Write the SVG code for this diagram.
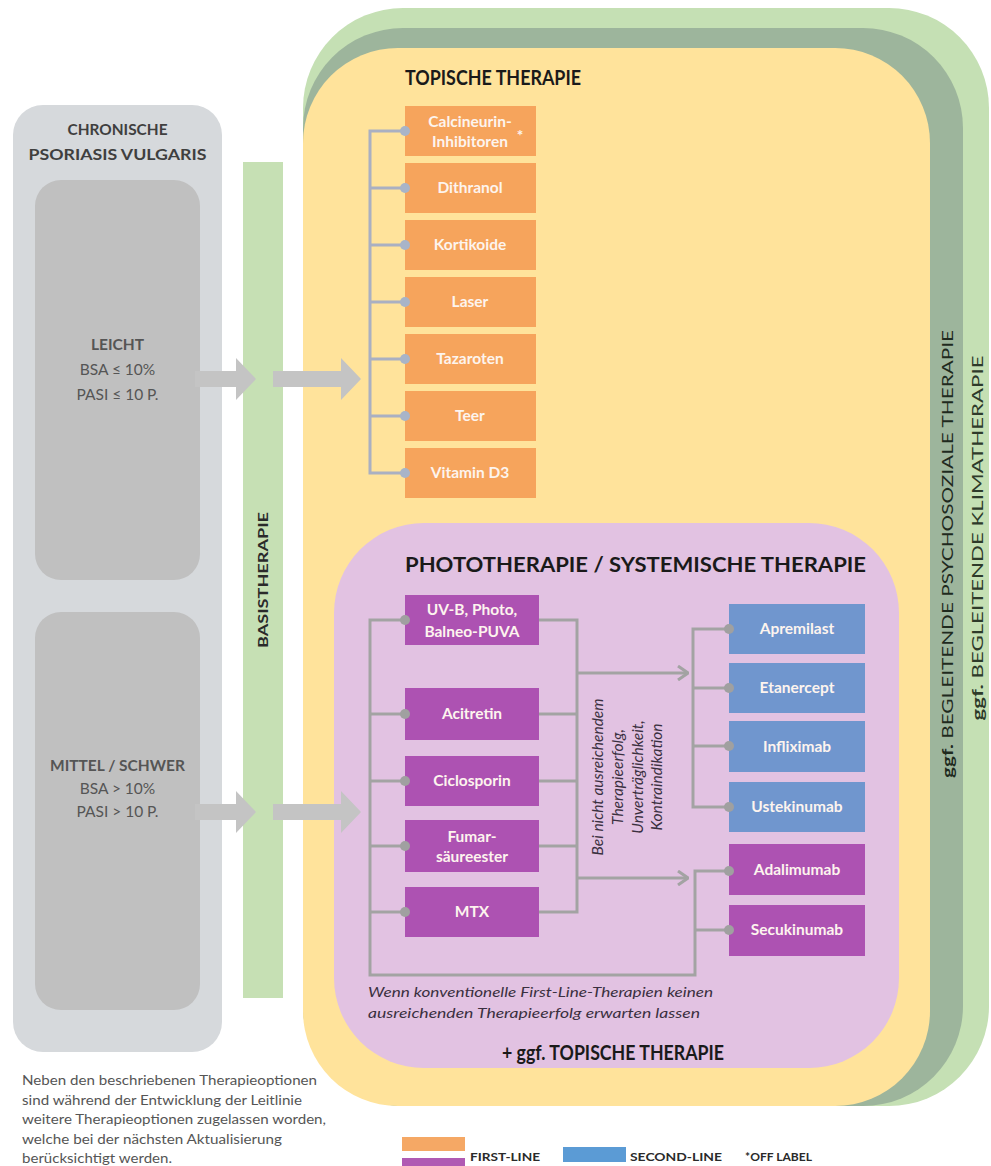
<svg xmlns="http://www.w3.org/2000/svg" width="991" height="1166" viewBox="0 0 991 1166">
<defs>
<style>
.f{font-family:Lato,"Liberation Sans",sans-serif}
.bd{font-weight:700}
.bo{fill:#f6a45c}
.bp{fill:#ad52b2}
.bb{fill:#7096ce}
.lbl{font-family:Lato,"Liberation Sans",sans-serif;font-weight:700;font-size:15.5px;fill:#fdf4ee;text-anchor:middle}
.ct{fill:none;stroke:#aab0c2;stroke-width:3}
.cn{fill:none;stroke:#a3a3a3;stroke-width:3}
.dt{fill:#a8b4c8}
.dn{fill:#a0a0a0}
.ga{fill:#c4c4c4}
.it{font-family:Lato,"Liberation Sans",sans-serif;font-style:italic;font-size:15.5px;fill:#3a3040}
.it2{font-family:Lato,"Liberation Sans",sans-serif;font-style:italic;font-size:14px;fill:#3a3040}
.ttl{font-family:Lato,"Liberation Sans",sans-serif;font-weight:700;font-size:20px;fill:#1a1a1a}
.gt{font-family:Lato,"Liberation Sans",sans-serif;font-size:15.5px;fill:#555555;text-anchor:middle}
</style>
<marker id="chev" viewBox="0 0 12 16" refX="11" refY="8" markerWidth="12" markerHeight="16" markerUnits="userSpaceOnUse" orient="auto"><path d="M1,1 L11,8 L1,15" fill="none" stroke="#a3a3a3" stroke-width="3"/></marker>
</defs>
<rect width="991" height="1166" fill="#ffffff"/>

<g id="klimatherapie">
<rect x="303" y="8" width="686" height="1098" rx="100" fill="#c5e0b4"/>
<text class="f" font-size="16" fill="#2e3a2a" transform="translate(983,538) rotate(-90)" text-anchor="middle" textLength="365" lengthAdjust="spacingAndGlyphs"><tspan font-weight="700">ggf.</tspan> BEGLEITENDE KLIMATHERAPIE</text>
</g>
<g id="psychosoziale">
<rect x="303" y="28" width="660" height="1078" rx="100" fill="#9db59c"/>
<text class="f" font-size="16" fill="#1f2a1e" transform="translate(953,554) rotate(-90)" text-anchor="middle" textLength="448" lengthAdjust="spacingAndGlyphs"><tspan font-weight="700">ggf.</tspan> BEGLEITENDE PSYCHOSOZIALE THERAPIE</text>
</g>
<g id="topische">
<rect x="303" y="48" width="627" height="1058" rx="95" fill="#ffe39b"/>
<text class="ttl" x="405" y="85" textLength="176" lengthAdjust="spacingAndGlyphs">TOPISCHE THERAPIE</text>
</g>
<g id="systemische">
<rect x="334" y="523" width="565" height="545" rx="90" fill="#e2c2e2"/>
<text class="ttl" x="405" y="572" textLength="461" lengthAdjust="spacingAndGlyphs">PHOTOTHERAPIE / SYSTEMISCHE THERAPIE</text>
<text class="ttl" x="502" y="1060" textLength="222" lengthAdjust="spacingAndGlyphs">+ ggf. TOPISCHE THERAPIE</text>
</g>

<g id="psoriasis">
<rect x="13" y="105" width="209" height="947" rx="30" fill="#d6d9dc"/>
<text class="f bd" font-size="15" fill="#3f3f3f" x="117.5" y="135" text-anchor="middle" textLength="100" lengthAdjust="spacingAndGlyphs">CHRONISCHE</text>
<text class="f bd" font-size="15" fill="#3f3f3f" x="117.5" y="160" text-anchor="middle" textLength="178" lengthAdjust="spacingAndGlyphs">PSORIASIS VULGARIS</text>
</g>
<g id="leicht">
<rect x="35" y="180" width="165" height="400" rx="26" fill="#c0c0c0"/>
<text class="gt" font-weight="700" fill="#404040" x="117.5" y="350">LEICHT</text>
<text class="gt" x="117.5" y="375">BSA ≤ 10%</text>
<text class="gt" x="117.5" y="400">PASI ≤ 10 P.</text>
</g>
<g id="mittel">
<rect x="35" y="612" width="165" height="398" rx="26" fill="#c0c0c0"/>
<text class="gt" font-weight="700" fill="#404040" x="117.5" y="771">MITTEL / SCHWER</text>
<text class="gt" x="117.5" y="794">BSA &gt; 10%</text>
<text class="gt" x="117.5" y="817">PASI &gt; 10 P.</text>
</g>
<g id="basistherapie">
<rect x="243" y="162" width="40" height="836" fill="#c6e0b4"/>
<text class="f bd" font-size="14" fill="#2a2a2a" transform="translate(268,580) rotate(-90)" text-anchor="middle" textLength="136" lengthAdjust="spacingAndGlyphs">BASISTHERAPIE</text>
</g>

<g id="topical-boxes">
<g id="calcineurin"><rect class="bo" x="405" y="106" width="131" height="50"/><text class="lbl" x="470" y="127">Calcineurin-</text><text class="lbl" x="470" y="147">Inhibitoren</text><text class="lbl" x="520" y="141">*</text></g>
<g id="dithranol"><rect class="bo" x="405" y="163" width="131" height="50"/><text class="lbl" x="470" y="193">Dithranol</text></g>
<g id="kortikoide"><rect class="bo" x="405" y="220" width="131" height="50"/><text class="lbl" x="470" y="250">Kortikoide</text></g>
<g id="laser"><rect class="bo" x="405" y="277" width="131" height="50"/><text class="lbl" x="470" y="307">Laser</text></g>
<g id="tazaroten"><rect class="bo" x="405" y="334" width="131" height="50"/><text class="lbl" x="470" y="364">Tazaroten</text></g>
<g id="teer"><rect class="bo" x="405" y="391" width="131" height="50"/><text class="lbl" x="470" y="421">Teer</text></g>
<g id="vitamind3"><rect class="bo" x="405" y="448" width="131" height="50"/><text class="lbl" x="470" y="478">Vitamin D3</text></g>
</g>

<g id="systemic-boxes">
<g id="uvb"><rect class="bp" x="405" y="595" width="134" height="50"/><text class="lbl" x="472" y="615">UV-B, Photo,</text><text class="lbl" x="472" y="637">Balneo-PUVA</text></g>
<g id="acitretin"><rect class="bp" x="405" y="688" width="134" height="52"/><text class="lbl" x="472" y="719">Acitretin</text></g>
<g id="ciclosporin"><rect class="bp" x="405" y="756" width="134" height="50"/><text class="lbl" x="472" y="786">Ciclosporin</text></g>
<g id="fumar"><rect class="bp" x="405" y="820" width="134" height="52"/><text class="lbl" x="472" y="842">Fumar-</text><text class="lbl" x="472" y="862">säureester</text></g>
<g id="mtx"><rect class="bp" x="405" y="887" width="134" height="50"/><text class="lbl" x="472" y="917">MTX</text></g>
<g id="apremilast"><rect class="bb" x="729" y="604" width="136" height="50"/><text class="lbl" x="797" y="634">Apremilast</text></g>
<g id="etanercept"><rect class="bb" x="729" y="663" width="136" height="50"/><text class="lbl" x="797" y="693">Etanercept</text></g>
<g id="infliximab"><rect class="bb" x="729" y="721" width="136" height="51"/><text class="lbl" x="797" y="752">Infliximab</text></g>
<g id="ustekinumab"><rect class="bb" x="729" y="782" width="136" height="50"/><text class="lbl" x="797" y="812">Ustekinumab</text></g>
<g id="adalimumab"><rect class="bp" x="729" y="844" width="136" height="51"/><text class="lbl" x="797" y="875">Adalimumab</text></g>
<g id="secukinumab"><rect class="bp" x="729" y="905" width="136" height="51"/><text class="lbl" x="797" y="935">Secukinumab</text></g>
</g>

<g id="connectors">
<polygon class="ga" points="195,371 236,371 236,358 256,379 236,400 236,387 195,387"/>
<polygon class="ga" points="273,371 341,371 341,358 361,379 341,400 341,387 273,387"/>
<polygon class="ga" points="195,804 236,804 236,791 256,812 236,833 236,820 195,820"/>
<polygon class="ga" points="273,804 341,804 341,791 361,812 341,833 341,820 273,820"/>

<path class="ct" d="M405,131 H370 V473 H405 M370,188 H405 M370,245 H405 M370,302 H405 M370,359 H405 M370,416 H405"/>
<g class="dt"><circle cx="405" cy="131" r="5"/><circle cx="405" cy="188" r="5"/><circle cx="405" cy="245" r="5"/><circle cx="405" cy="302" r="5"/><circle cx="405" cy="359" r="5"/><circle cx="405" cy="416" r="5"/><circle cx="405" cy="473" r="5"/></g>

<path class="cn" d="M405,620 H370 V975 H695 V871 H729 M370,714 H405 M370,781 H405 M370,846 H405 M370,912 H405 M695,930 H729"/>
<path class="cn" d="M539,620 H577 V912 H539 M539,714 H577 M539,781 H577 M539,846 H577"/>
<path class="cn" d="M577,673 H688" marker-end="url(#chev)"/>
<path class="cn" d="M577,878 H688" marker-end="url(#chev)"/>
<path class="cn" d="M729,629 H693 V807 H729 M693,688 H729 M693,746 H729"/>
<g class="dn"><circle cx="405" cy="620" r="5"/><circle cx="405" cy="714" r="5"/><circle cx="405" cy="781" r="5"/><circle cx="405" cy="846" r="5"/><circle cx="405" cy="912" r="5"/><circle cx="729" cy="629" r="5"/><circle cx="729" cy="688" r="5"/><circle cx="729" cy="746" r="5"/><circle cx="729" cy="807" r="5"/><circle cx="729" cy="871" r="5"/><circle cx="729" cy="930" r="5"/></g>

<g transform="translate(0,777) rotate(-90)">
<text class="it" x="0" y="603" text-anchor="middle">Bei nicht ausreichendem</text>
<text class="it" x="0" y="623" text-anchor="middle">Therapieerfolg,</text>
<text class="it" x="0" y="643" text-anchor="middle">Unverträglichkeit,</text>
<text class="it" x="0" y="662" text-anchor="middle">Kontraindikation</text>
</g>
<text class="it2" x="368" y="997" textLength="345" lengthAdjust="spacingAndGlyphs">Wenn konventionelle First-Line-Therapien keinen</text>
<text class="it2" x="368" y="1018" textLength="332" lengthAdjust="spacingAndGlyphs">ausreichenden Therapieerfolg erwarten lassen</text>
</g>

<g id="note" class="f" font-size="13" fill="#555555">
<text x="22" y="1085" textLength="295" lengthAdjust="spacingAndGlyphs">Neben den beschriebenen Therapieoptionen</text>
<text x="22" y="1104.5" textLength="280" lengthAdjust="spacingAndGlyphs">sind während der Entwicklung der Leitlinie</text>
<text x="22" y="1124" textLength="304" lengthAdjust="spacingAndGlyphs">weitere Therapieoptionen zugelassen worden,</text>
<text x="22" y="1143.5" textLength="260" lengthAdjust="spacingAndGlyphs">welche bei der nächsten Aktualisierung</text>
<text x="22" y="1163" textLength="150" lengthAdjust="spacingAndGlyphs">berücksichtigt werden.</text>
</g>

<g id="legend">
<rect x="402" y="1137" width="63" height="14" fill="#f5a865"/>
<rect x="402" y="1158" width="63" height="10" fill="#b05ab3"/>
<text class="f bd" font-size="12" fill="#2a2a2a" x="470" y="1161" textLength="70" lengthAdjust="spacingAndGlyphs">FIRST-LINE</text>
<rect x="563" y="1147" width="63" height="15" fill="#5b9bd5"/>
<text class="f bd" font-size="12" fill="#2a2a2a" x="630" y="1161" textLength="92" lengthAdjust="spacingAndGlyphs">SECOND-LINE</text>
<text class="f bd" font-size="12" fill="#2a2a2a" x="745" y="1161" textLength="67" lengthAdjust="spacingAndGlyphs">*OFF LABEL</text>
</g>
</svg>
